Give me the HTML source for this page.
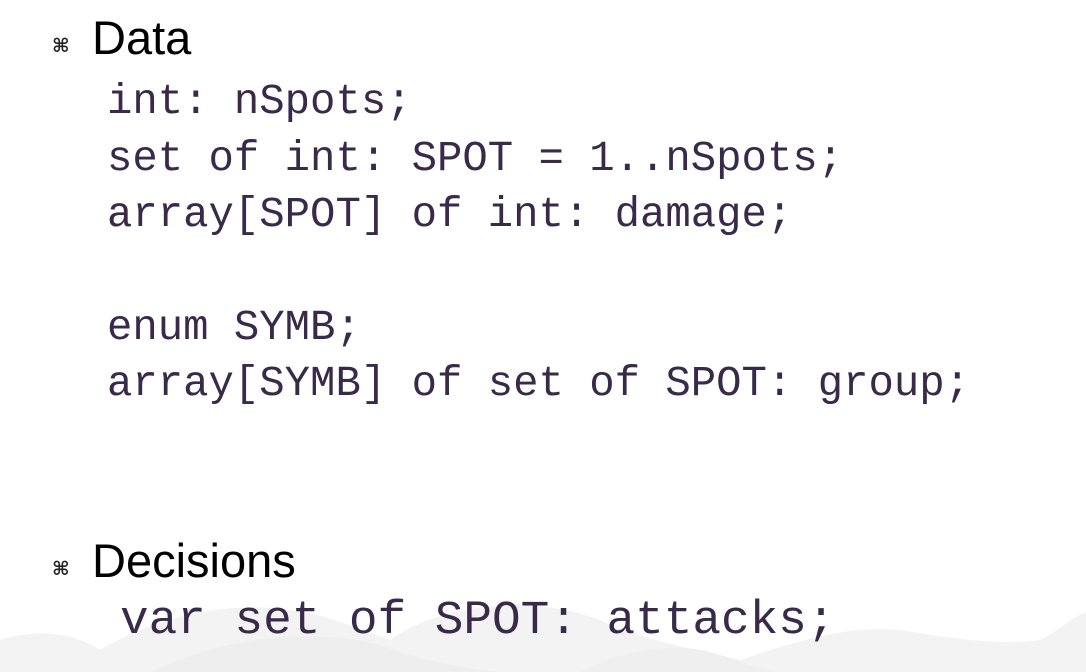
<!DOCTYPE html>
<html><head><style>
html,body{margin:0;padding:0;background:#fff;}
body{width:1086px;height:672px;position:relative;overflow:hidden;}
.h{position:absolute;font-family:"Liberation Sans",sans-serif;font-size:47px;color:#000;line-height:1;}
.b{position:absolute;font-family:"DejaVu Sans",sans-serif;font-size:19px;font-weight:bold;color:#222;line-height:1;}
.c{position:absolute;font-family:"Liberation Mono",monospace;font-size:42.3px;color:#3a2a4a;white-space:pre;line-height:1;}
</style></head><body>
<svg style="position:absolute;left:0;top:0" width="1086" height="672">
<path d="M0,672 L0,640 C30,630 70,630 100,650 C150,620 220,600 290,610 C330,615 360,630 390,640 C430,610 520,590 600,620 C640,640 700,650 740,660 C800,640 850,625 900,630 C960,640 1000,645 1040,640 C1060,630 1075,615 1086,612 L1086,672 Z" fill="#f3f3f3"/>
<path d="M150,672 C220,640 300,625 380,645 C420,660 460,668 500,672 Z" fill="#eeeeee"/>
<path d="M580,672 C620,650 680,640 720,655 C750,665 770,672 780,672 Z" fill="#efefef"/>
</svg>
<div class="b" style="left:52px;top:37px">⌘</div>
<div class="h" style="left:92px;top:14px">Data</div>
<div class="c" style="left:107px;top:81px">int: nSpots;</div>
<div class="c" style="left:107px;top:138px">set of int: SPOT = 1..nSpots;</div>
<div class="c" style="left:107px;top:194px">array[SPOT] of int: damage;</div>
<div class="c" style="left:107px;top:307px">enum SYMB;</div>
<div class="c" style="left:107px;top:363px">array[SYMB] of set of SPOT: group;</div>
<div class="b" style="left:52px;top:560px">⌘</div>
<div class="h" style="left:92px;top:537px">Decisions</div>
<div class="c" style="left:120px;top:598px;font-size:47.7px">var set of SPOT: attacks;</div>
</body></html>
